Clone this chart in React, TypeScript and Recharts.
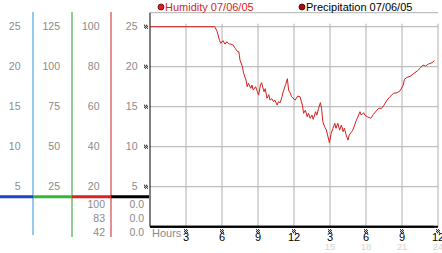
import { LineChart, Line, XAxis, YAxis, CartesianGrid, ReferenceLine } from "recharts";

// humidity trace, hour of day vs percent
const HOURS = [
  0, 5.4, 5.6, 5.8, 5.9, 6.08, 6.25, 6.4, 6.55, 6.7, 6.9, 7.1, 7.3, 7.4, 7.5, 7.7, 7.8, 8.0, 8.1, 8.2,
  8.4, 8.5, 8.6, 8.8, 8.9, 9.05, 9.2, 9.3, 9.5, 9.6, 9.75, 9.9, 10.0, 10.15, 10.3, 10.4, 10.6, 10.7,
  10.85, 11.0, 11.1, 11.3, 11.45, 11.55, 11.7, 11.8, 12.1, 12.3, 12.5, 12.7, 12.8, 12.95, 13.1, 13.2,
  13.35, 13.5, 13.6, 13.8, 13.9, 14.05, 14.2, 14.3, 14.4, 14.55, 14.7, 14.8, 14.95, 15.1, 15.25, 15.4,
  15.5, 15.65, 15.8, 15.95, 16.1, 16.2, 16.35, 16.5, 16.6, 16.8, 16.9, 17.05, 17.2, 17.35, 17.5, 17.6,
  17.8, 17.9, 18.1, 18.4, 18.6, 18.8, 19.05, 19.3, 19.5, 19.75, 20.0, 20.3, 20.6, 20.85, 21.1, 21.2,
  21.4, 21.7, 22.0, 22.3, 22.5, 22.75, 22.95, 23.2, 23.5, 23.7,
];
const HUMIDITY = [
  100, 100, 97.5, 93, 91.7, 93, 91.3, 92.5, 91.5, 91.3, 91, 89.2, 87.5, 87.5, 83.3, 80, 76.7, 73.3, 70, 71.7,
  69.2, 70.8, 68.3, 70, 68.3, 65.8, 70.8, 72, 67.5, 69, 64.2, 66, 63.3, 64, 62.5, 63.3, 60.8, 62.5,
  62, 65, 67.5, 71, 74, 68.3, 66.7, 65, 63.3, 65.3, 65, 60.8, 56.7, 58.3, 55, 56.7,
  54.2, 55.8, 53.7, 57.5, 55.8, 59.2, 62, 59, 52.5, 50, 48.3, 45.8, 42, 46.7, 49.2, 51.7,
  49.2, 51.7, 48.3, 50.8, 47.5, 49.2, 45.8, 43.3, 45.8, 47.5, 48.3, 50.8, 53.3, 55.3, 57.5, 55.8,
  57, 55.8, 55, 54.2, 56, 57.5, 59.2, 59.2, 60.8, 63.3, 65, 66.7, 67, 68, 70.8, 73.7,
  74.6, 75.3, 76.7, 78, 79.2, 80.8, 80.3, 81.3, 82, 83,
];
const PRECIP_HOURS = [0, 23.7];
const PRECIP = [0, 0];

const X_TICKS = [3, 6, 9, 12, 15, 18, 21, 24];
const Y_TICKS = [20, 40, 60, 80, 100];
// the four left-hand scales, as factors of the humidity scale
const COLUMN_FACTORS = [0.25, 1.25, 1, 0.25];
const COLUMN_ENDS = [-129.5, -90, -50.5, -12.5];
const LEGEND = ["Humidity 07/06/05", "Precipitation 07/06/05"];

const FONT = "Liberation Sans, Arial, sans-serif";
const GRAY = "#8a8a8a";

const humidityData = HOURS.map((t, i) => ({ t, h: HUMIDITY[i] }));
const precipData = PRECIP_HOURS.map((t, i) => ({ t, p: PRECIP[i] }));

const humMax = Math.max(...HUMIDITY);
const humMin = Math.min(...HUMIDITY);
const humLast = HUMIDITY[HUMIDITY.length - 1];
const prMax = Math.max(...PRECIP);
const prMin = Math.min(...PRECIP);
const prLast = PRECIP[PRECIP.length - 1];

function Checker({ x, y }: { x: number; y: number }) {
  const cells = [
    [0, 0], [2, 0], [1, 1], [3, 1], [0, 2], [2, 2], [1, 3], [3, 3],
  ];
  return (
    <g>
      {cells.map(([dx, dy], i) => (
        <rect key={i} x={x + dx} y={y + dy} width={1} height={1} fill="#000" />
      ))}
    </g>
  );
}

function YTick(props: any) {
  const { x, y, payload } = props;
  const v = payload.value as number;
  return (
    <g>
      {COLUMN_FACTORS.map((f, i) => (
        <text
          key={i}
          x={x + COLUMN_ENDS[i]}
          y={y}
          dy="0.35em"
          textAnchor="end"
          fontSize={10.5}
          fontFamily={FONT}
          fill={GRAY}
        >
          {v * f}
        </text>
      ))}
      <Checker x={x - 6} y={y - 2} />
    </g>
  );
}

function XTick(props: any) {
  const { x, y, payload } = props;
  const v = payload.value as number;
  return (
    <g>
      <Checker x={x - 2} y={y + 2.5} />
      <text x={x} y={y + 14.5} textAnchor="middle" fontSize={11} fontFamily={FONT} fill="#000">
        {v > 12 ? v - 12 : v}
      </text>
      {v > 12 && (
        <text x={x} y={y + 23.3} textAnchor="middle" fontSize={9.5} fontFamily={FONT} fill="#d4d4d4">
          {v}
        </text>
      )}
    </g>
  );
}

export default function App() {
  return (
    <div
      style={{
        position: "absolute",
        left: 0,
        top: 0,
        width: 442,
        height: 253,
        background: "#fff",
        fontFamily: FONT,
      }}
    >
      <LineChart width={442} height={253} margin={{ top: 12.7, right: 4, bottom: 0, left: 0 }}>
        <CartesianGrid vertical={false} stroke="#b0b0b0" />
        {X_TICKS.map((t) => (
          <ReferenceLine
            key={t}
            segment={[
              { x: t, y: 0 },
              { x: t, y: 101.5 },
            ]}
            stroke="#b0b0b0"
          />
        ))}
        <XAxis
          type="number"
          dataKey="t"
          domain={[0, 24]}
          ticks={X_TICKS}
          height={26.3}
          axisLine={{ stroke: "#000", strokeWidth: 2 }}
          tickLine={false}
          tickSize={0}
          tickMargin={0}
          tick={<XTick />}
          interval={0}
        />
        <YAxis
          type="number"
          domain={[0, 107]}
          ticks={Y_TICKS}
          width={150}
          axisLine={{ stroke: "#000", strokeWidth: 1 }}
          tickLine={false}
          tickSize={0}
          tickMargin={0}
          tick={<YTick />}
          interval={0}
        />
        <Line
          data={precipData}
          dataKey="p"
          stroke="#000"
          strokeWidth={2}
          dot={false}
          isAnimationActive={false}
        />
        <Line
          data={humidityData}
          dataKey="h"
          stroke="#d81e1e"
          strokeWidth={1}
          dot={false}
          isAnimationActive={false}
        />
      </LineChart>

      <svg
        width={442}
        height={253}
        style={{ position: "absolute", left: 0, top: 0, pointerEvents: "none" }}
      >
        {/* legend */}
        <circle cx={161} cy={7} r={3} fill="#d81e1e" stroke="#600" strokeWidth={0.8} />
        <text x={165} y={11} fontSize={11} fontFamily={FONT} fill="#d81e1e">
          {LEGEND[0]}
        </text>
        <circle cx={302} cy={7} r={3} fill="#a01010" stroke="#400" strokeWidth={0.8} />
        <text x={306} y={11} fontSize={11} fontFamily={FONT} fill="#000">
          {LEGEND[1]}
        </text>

        {/* left panel dividers */}
        <line x1={33} y1={12} x2={33} y2={235} stroke="#2a96d4" strokeWidth={1} />
        <line x1={72} y1={12} x2={72} y2={237} stroke="#2a9a2a" strokeWidth={1} />
        <line x1={111} y1={12} x2={111} y2={237} stroke="#cc2222" strokeWidth={1} />
        <line x1={0} y1={196.7} x2={33} y2={196.7} stroke="#1a44cc" strokeWidth={3} />
        <line x1={33} y1={196.7} x2={72} y2={196.7} stroke="#33b833" strokeWidth={3} />
        <line x1={72} y1={196.7} x2={111} y2={196.7} stroke="#dd2222" strokeWidth={3} />
        <line x1={111} y1={196.7} x2={149} y2={196.7} stroke="#000" strokeWidth={3} />

        {/* max / current / min */}
        {[humMax, humLast, humMin].map((v, i) => (
          <text
            key={"h" + i}
            x={105}
            y={204 + i * 14.2}
            dy="0.35em"
            textAnchor="end"
            fontSize={10.5}
            fontFamily={FONT}
            fill={GRAY}
          >
            {Math.round(v)}
          </text>
        ))}
        {[prMax, prLast, prMin].map((v, i) => (
          <text
            key={"p" + i}
            x={144}
            y={204 + i * 14.2}
            dy="0.35em"
            textAnchor="end"
            fontSize={10.5}
            fontFamily={FONT}
            fill={GRAY}
          >
            {v.toFixed(1)}
          </text>
        ))}

        <text x={152} y={236.5} fontSize={11} fontFamily={FONT} fill={GRAY}>
          Hours
        </text>
      </svg>
    </div>
  );
}
